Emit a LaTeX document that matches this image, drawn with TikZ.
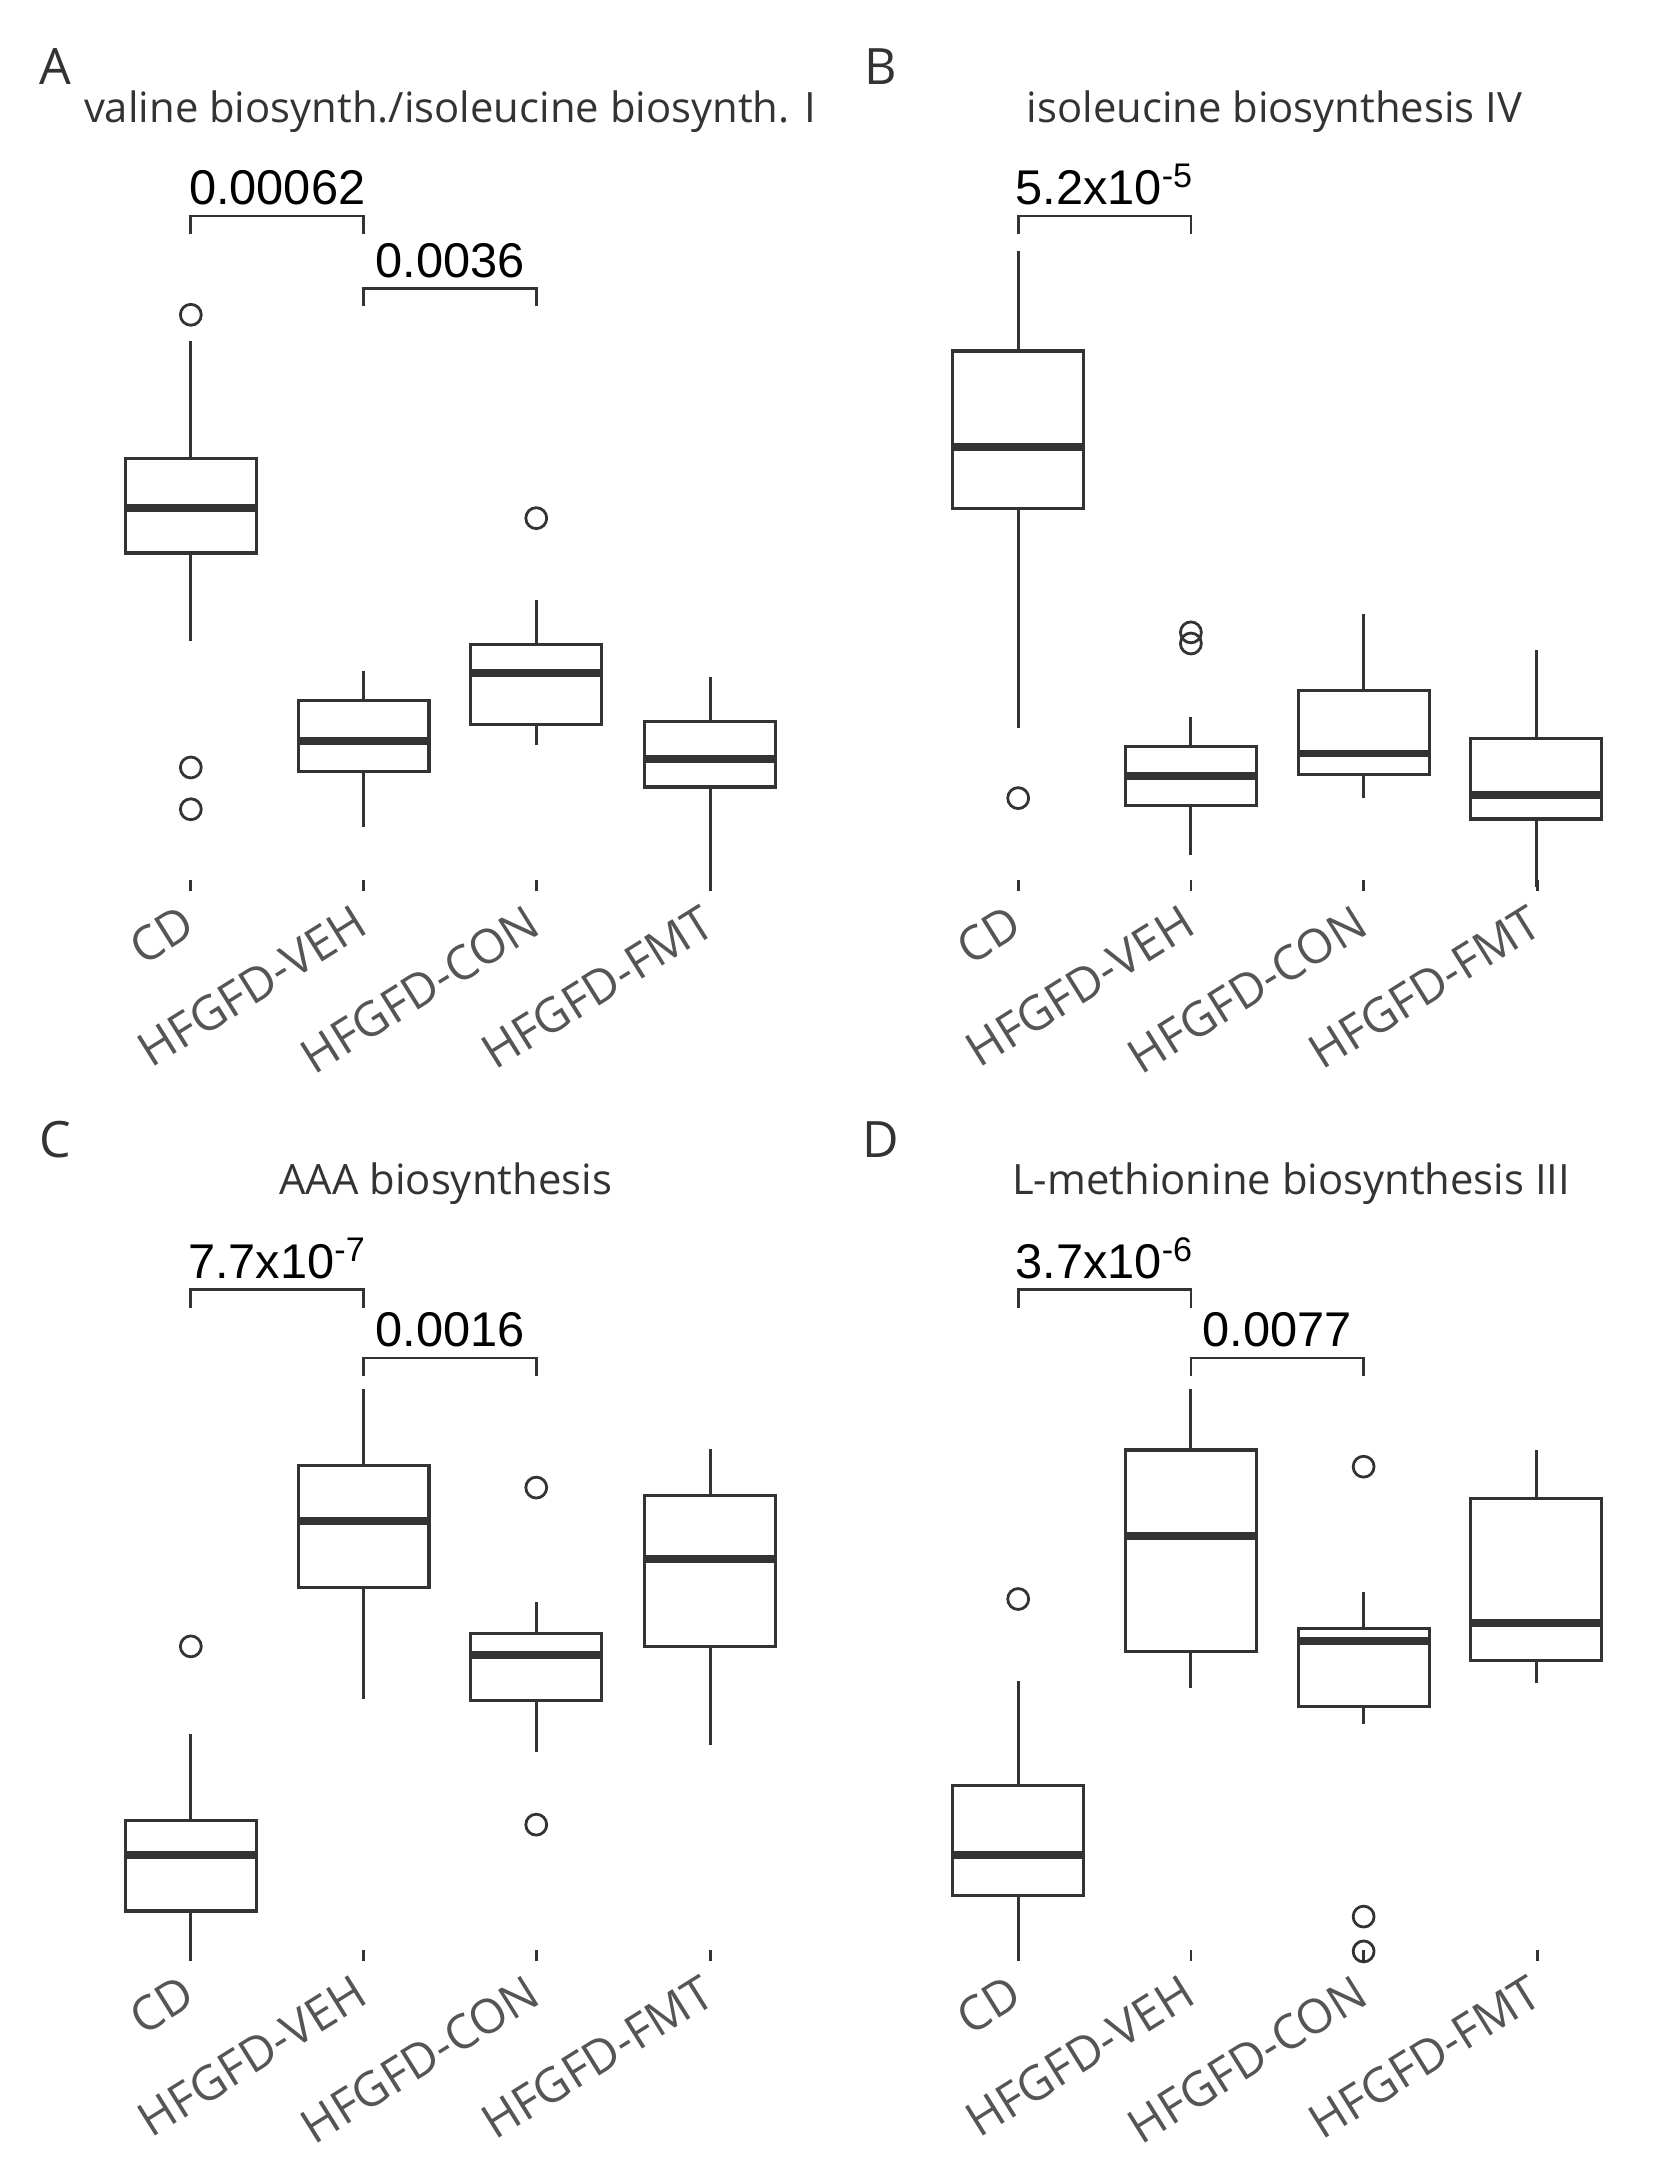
\documentclass[tikz,border=0pt]{standalone}
\usepackage{fontspec}
\setmainfont{Open Sans}
\newfontfamily\arialf{Liberation Sans}
\definecolor{dk}{HTML}{333333}
\definecolor{gy}{HTML}{555555}
\tikzset{bline/.style={draw=dk,line width=1.1pt},
 med/.style={draw=dk,line width=2.8pt},
 outl/.style={draw=dk,line width=1pt},
 tick/.style={draw=dk,line width=1pt},
 xlab/.style={gy,font=\fontsize{17}{17}\selectfont,rotate=32,anchor=north east,inner sep=0pt},
 ttl/.style={font=\fontsize{15}{15}\selectfont,text=dk},
 pl/.style={font=\fontsize{18}{18}\selectfont,text=dk},
 pv/.style={font=\arialf\fontsize{17.5}{18}\selectfont,text=black,anchor=base}}
\newcommand{\bxp}[6]{%
 \draw[bline] (#1,#2)--(#1,#3) (#1,#5)--(#1,#6);
 \draw[bline] (#1-47,#3) rectangle (#1+47,#5);
 \draw[med] (#1-47,#4)--(#1+47,#4);}
\newcommand{\olr}[2]{\draw[outl] (#1,#2) circle (7.5);}
\newcommand{\brk}[4]{\draw[bline,line width=1pt] (#1,#3+13)--(#1,#3)--(#2,#3)--(#2,#3+13);
 \node[pv] at ({(#1+#2)/2},#3-8) {#4};}
\newcommand{\xlabs}[2]{%
 \foreach \xx/\tt [count=\i] in {0/CD,124/HFGFD-VEH,248/HFGFD-CON,373/HFGFD-FMT}{
  \draw[tick] (#1+\xx,#2)--(#1+\xx,#2+8);
  \node[xlab] at (#1+\xx-8,#2+16) {\tt};}}
\begin{document}
\begin{tikzpicture}[x=0.5pt,y=-0.5pt]
\useasboundingbox (0,0) rectangle (1200,1568);
% A
\node[pl] at (40,48) {A};
\node[ttl] at (323,80) {valine biosynth./isoleucine biosynth. I};
\bxp{137}{245}{329}{365}{397}{460}
\olr{137}{226}\olr{137}{551}\olr{137}{581}
\bxp{261}{482}{503}{532}{554}{594}
\bxp{385}{431}{463}{483}{520}{535}\olr{385}{372}
\bxp{510}{486}{518}{545}{565}{634}
\brk{137}{261}{155}{0.00062}
\brk{261}{385}{207}{0.0036}
\xlabs{137}{632}
% B
\node[pl] at (632,48) {B};
\node[ttl] at (915,80) {isoleucine biosynthesis IV};
\bxp{731}{180}{252}{321}{365}{523}\olr{731}{573}
\bxp{855}{515}{536}{557}{578}{614}\olr{855}{454}\olr{855}{462}
\bxp{979}{441}{496}{541}{556}{573}
\bxp{1103}{467}{530}{571}{588}{637}
\brk{731}{855}{155}{5.2x10\textsuperscript{-5}}
\xlabs{731}{632}
% C
\node[pl] at (40,818) {C};
\node[ttl] at (320,850) {AAA biosynthesis};
\bxp{137}{1245}{1307}{1332}{1372}{1405}\olr{137}{1182}
\bxp{261}{997}{1052}{1092}{1140}{1220}
\bxp{385}{1150}{1173}{1188}{1221}{1258}\olr{385}{1068}\olr{385}{1310}
\bxp{510}{1040}{1074}{1119}{1182}{1253}
\brk{137}{261}{926}{7.7x10\textsuperscript{-7}}
\brk{261}{385}{975}{0.0016}
\xlabs{137}{1400}
% D
\node[pl] at (632,818) {D};
\node[ttl] at (927,850) {L-methionine biosynthesis III};
\bxp{731}{1207}{1282}{1332}{1361}{1405}\olr{731}{1148}
\bxp{855}{997}{1041}{1103}{1186}{1212}
\bxp{979}{1143}{1169}{1178}{1225}{1238}\olr{979}{1053}\olr{979}{1376}\olr{979}{1401}
\bxp{1103}{1041}{1076}{1165}{1192}{1208}
\brk{731}{855}{926}{3.7x10\textsuperscript{-6}}
\brk{855}{979}{975}{0.0077}
\xlabs{731}{1400}
\end{tikzpicture}
\end{document}
